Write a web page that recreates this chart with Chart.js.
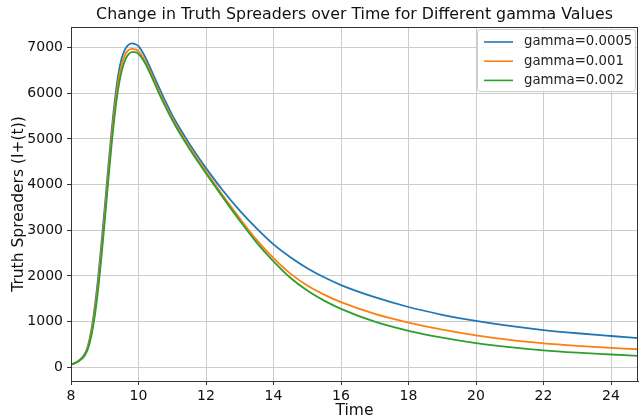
<!DOCTYPE html>
<html>
<head>
<meta charset="utf-8">
<script src="https://cdn.jsdelivr.net/npm/chart.js@4.4.0/dist/chart.umd.min.js"></script>
<style>
    html, body { margin: 0; padding: 0; background: #fff; }
    #wrap { width: 639px; height: 420px; }
</style>
</head>
<body>
<div id="wrap"><canvas id="spreadersChart" width="639" height="420"></canvas></div>
<script>
// Values
const timePoints = [8, 8.2, 8.4, 8.5, 8.6, 8.7, 8.8, 8.9, 9.0, 9.1, 9.2, 9.3, 9.4, 9.5, 9.6, 9.7, 9.8, 9.9,
    10.0, 10.2, 10.4, 10.6, 10.8, 11.0, 11.2, 11.4, 11.6, 11.8, 12, 12.5, 13, 13.5, 14, 14.5, 15, 15.5, 16,
    17, 18, 19, 20, 21, 22, 23, 24, 24.8];

const gamma0005 = [60, 130, 280, 460, 800, 1300, 1930, 2700, 3500, 4350, 5150, 5850, 6400, 6760, 6960, 7060, 7090, 7075,
    7030, 6790, 6470, 6140, 5820, 5520, 5260, 5020, 4790, 4570, 4360, 3870, 3430, 3040, 2690, 2410, 2170, 1970, 1800,
    1535, 1320, 1150, 1015, 905, 815, 745, 685, 640];

const gamma001 = [58, 125, 265, 430, 740, 1200, 1800, 2550, 3350, 4200, 5000, 5700, 6250, 6620, 6840, 6940, 6970, 6960,
    6920, 6700, 6390, 6050, 5740, 5450, 5190, 4950, 4720, 4500, 4285, 3760, 3260, 2790, 2390, 2050, 1790, 1590, 1425,
    1170, 980, 825, 700, 600, 525, 470, 425, 395];

const gamma002 = [55, 120, 250, 400, 680, 1100, 1680, 2400, 3200, 4050, 4850, 5550, 6100, 6480, 6720, 6850, 6900, 6900,
    6860, 6650, 6340, 6010, 5700, 5410, 5150, 4910, 4680, 4460, 4245, 3720, 3210, 2730, 2320, 1960, 1680, 1460, 1280,
    1000, 800, 650, 530, 440, 370, 320, 280, 250];

const seriesLabels = ['gamma=0.0005', 'gamma=0.001', 'gamma=0.002'];
const seriesColors = ['#1f77b4', '#ff7f0e', '#2ca02c'];
const xTicks = [8, 10, 12, 14, 16, 18, 20, 22, 24];
const yTicks = [0, 1000, 2000, 3000, 4000, 5000, 6000, 7000];
const chartTitle = 'Change in Truth Spreaders over Time for Different gamma Values';

const FONT = "'DejaVu Sans', sans-serif";

function toPoints(values) {
    return timePoints.map((t, i) => ({ x: t, y: values[i] }));
}

// Title over the plot, frame (top/right spines) and legend box inside the plot
const framePlugin = {
    id: 'frame',
    afterDatasetsDraw(chart) {
        const { ctx, chartArea } = chart;
        ctx.save();
        ctx.strokeStyle = '#333';
        ctx.lineWidth = 1;
        ctx.strokeRect(Math.round(chartArea.left) + 0.5, Math.round(chartArea.top) + 0.5,
            Math.round(chartArea.right - chartArea.left) - 1, Math.round(chartArea.bottom - chartArea.top));
        ctx.restore();
    },
    afterDraw(chart) {
        const { ctx, chartArea } = chart;
        ctx.save();
        ctx.font = '15.8px ' + FONT;
        ctx.fillStyle = '#111';
        ctx.textAlign = 'center';
        ctx.textBaseline = 'middle';
        ctx.fillText(chartTitle, (chartArea.left + chartArea.right) / 2, 15);

        const boxX = 477.5, boxY = 29.5, boxW = 158, boxH = 62;
        ctx.fillStyle = 'rgba(255,255,255,0.85)';
        ctx.strokeStyle = '#cccccc';
        ctx.lineWidth = 1;
        ctx.beginPath();
        ctx.roundRect(boxX, boxY, boxW, boxH, 3);
        ctx.fill();
        ctx.stroke();
        ctx.font = '13.3px ' + FONT;
        ctx.textAlign = 'left';
        ctx.fillStyle = '#222';
        seriesLabels.forEach((label, i) => {
            const y = 42 + i * 19.2;
            ctx.strokeStyle = seriesColors[i];
            ctx.lineWidth = 1.6;
            ctx.beginPath();
            ctx.moveTo(484, y);
            ctx.lineTo(513, y);
            ctx.stroke();
            ctx.fillText(label, 524, y);
        });
        ctx.restore();
    }
};

const datasets = seriesLabels.map((label, i) => ({
    label: label,
    data: toPoints([gamma0005, gamma001, gamma002][i]),
    borderColor: seriesColors[i],
    backgroundColor: seriesColors[i],
    borderWidth: 1.8,
    pointRadius: 0,
    cubicInterpolationMode: 'monotone',
    fill: false,
    order: 2 - i
}));

new Chart(document.getElementById('spreadersChart'), {
    type: 'line',
    data: { datasets },
    plugins: [framePlugin],
    options: {
        responsive: false,
        animation: false,
        layout: { padding: { left: 0, right: 1, top: 27, bottom: 0 } },
        plugins: {
            legend: { display: false },
            tooltip: { enabled: false },
            title: { display: false }
        },
        scales: {
            x: {
                type: 'linear',
                min: 8,
                max: 24.8,
                afterFit: scale => { scale.height = 39; },
                afterBuildTicks: scale => { scale.ticks = xTicks.map(v => ({ value: v })); },
                grid: { color: '#cccccc', lineWidth: 1, drawTicks: true, tickLength: 4, tickColor: '#333' },
                border: { color: '#333', width: 1 },
                ticks: {
                    color: '#111',
                    font: { family: FONT, size: 14 },
                    padding: 3,
                    maxRotation: 0,
                    callback: v => String(v)
                },
                title: {
                    display: true,
                    text: 'Time',
                    color: '#111',
                    font: { family: FONT, size: 15.5 },
                    padding: { top: 0, bottom: 0 }
                }
            },
            y: {
                type: 'linear',
                min: -300,
                max: 7450,
                afterFit: scale => { scale.width = 71; },
                afterBuildTicks: scale => { scale.ticks = yTicks.map(v => ({ value: v })); },
                grid: { color: '#cccccc', lineWidth: 1, drawTicks: true, tickLength: 4, tickColor: '#333' },
                border: { color: '#333', width: 1 },
                ticks: {
                    color: '#111',
                    font: { family: FONT, size: 14 },
                    padding: 4,
                    callback: v => String(v)
                },
                title: {
                    display: true,
                    text: 'Truth Spreaders (I+(t))',
                    color: '#111',
                    font: { family: FONT, size: 15.5 },
                    padding: { top: 10, bottom: 0 }
                }
            }
        }
    }
});
</script>
</body>
</html>
